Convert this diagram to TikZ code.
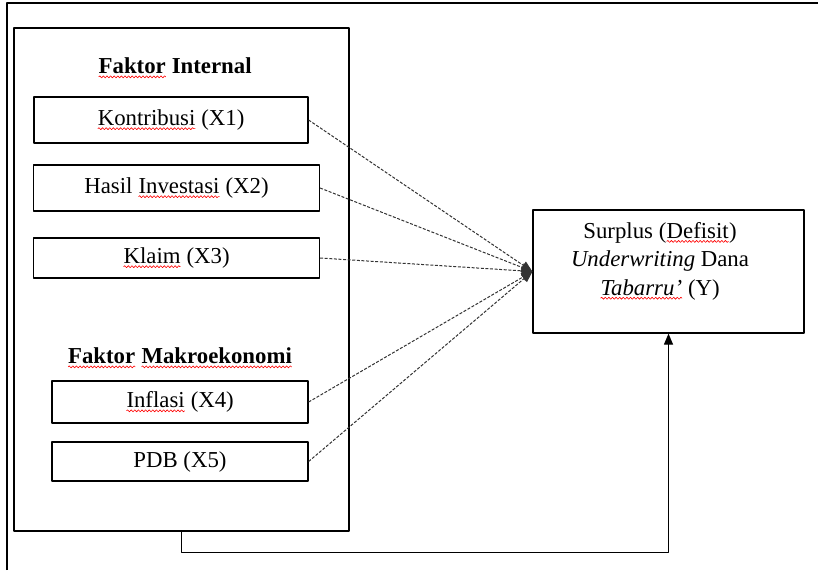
\documentclass[tikz,border=0pt]{standalone}
\usepackage{fontspec}
\setmainfont{Liberation Serif}
\usetikzlibrary{decorations.pathmorphing,arrows.meta}
\newcommand\spell[1]{\tikz[baseline=(w.base)]{\node[draw=none,inner sep=0pt,outer sep=0pt,minimum width=0pt,minimum height=0pt] (w) {#1};
	\draw[red,line width=0.3pt,solid,decorate,decoration={snake,amplitude=0.5pt,segment length=1.8pt}] ([yshift=-1.6pt]w.base west)--([yshift=-1.6pt]w.base east);}}
\begin{document}
\begin{tikzpicture}[x=0.5pt,y=-0.5pt,>={Triangle[length=5.5pt,width=4.5pt]}, font=\fontsize{11.4}{14.2}\selectfont, line join=round,
	kotak/.style={draw,line width=0.6pt,inner sep=0pt},
	panah/.style={->,dash pattern=on 1.5pt off 0.8pt,line width=0.5pt,black!80}]
			\useasboundingbox (0,0) rectangle (818,570);
			\draw[line width=0.6pt] (7,570)--(7,3)--(818,3);
			\node[kotak,minimum width=167.5pt,minimum height=251.5pt] (faktor) at (181.5,279.5) {};
			\node (internal) at (175,68) {\textbf{\spell{Faktor} Internal}};
			\node[kotak,minimum width=137pt,minimum height=23pt] (x1) at (171,120) {\spell{Kontribusi} (X1)};
			\node[kotak,minimum width=143pt,minimum height=23pt] (x2) at (176.5,188) {Hasil \spell{Investasi} (X2)};
			\node[kotak,minimum width=143pt,minimum height=20pt] (x3) at (176.5,258) {\spell{Klaim} (X3)};
			\node (makro) at (180,358) {\textbf{\spell{Faktor} \spell{Makroekonomi}}};
			\node[kotak,minimum width=128pt,minimum height=21pt] (x4) at (180,402) {\spell{Inflasi} (X4)};
			\node[kotak,minimum width=128pt,minimum height=19.5pt] (x5) at (180,461.5) {PDB (X5)};
			\node[kotak,minimum width=135.5pt,minimum height=61.5pt] (y) at (668.5,271.5) {};
			\node[align=center] (ylab) at (660,261) {Surplus (\spell{Defisit})\\ \textit{Underwriting} Dana\\ \spell{\textit{Tabarru'}} (Y)};
			\foreach \v in {x1,x2,x3,x4,x5}
				\draw[panah] (\v.east)--(y.west);
			\draw[->,line width=0.6pt] (faktor.south)--++(0,21) -| (y.south);
		\end{tikzpicture}
\end{document}
